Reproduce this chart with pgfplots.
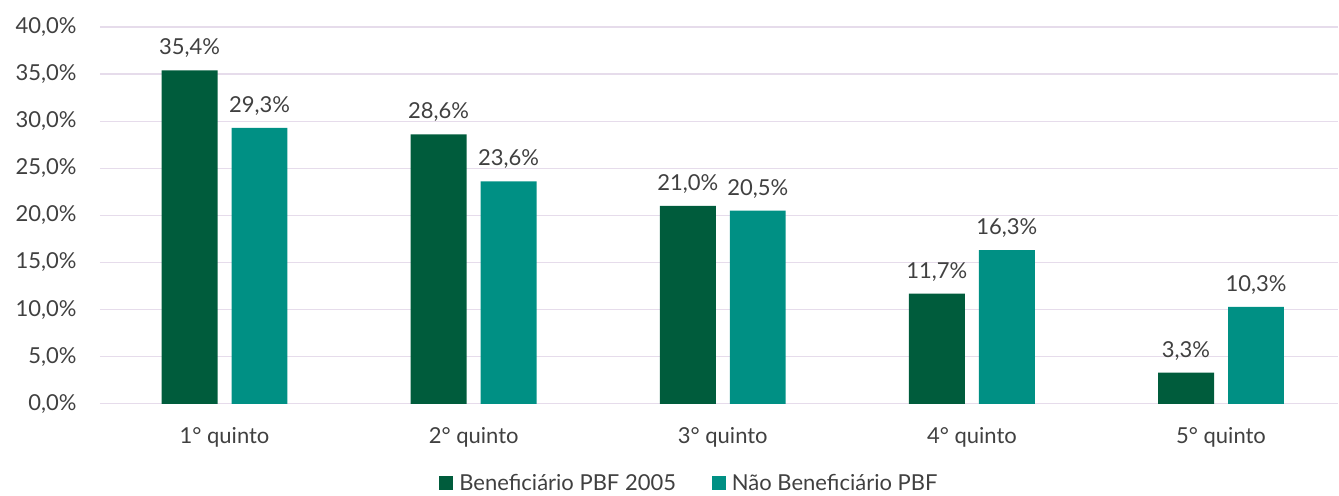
\documentclass[border=0pt]{standalone}
\usepackage{fontspec}
\setmainfont{Lato}
\usepackage{pgfplots}
\pgfplotsset{compat=1.18}

\definecolor{verdeesc}{HTML}{005C3C}
\definecolor{verdeagua}{HTML}{009084}
\definecolor{grade}{HTML}{E6DCEB}
\definecolor{texto}{HTML}{404040}

\begin{document}
\begin{tikzpicture}
\path (-100pt,-89pt) rectangle (1239pt,404pt);
\begin{axis}[
    at={(0pt,0pt)}, anchor=south west,
    scale only axis,
    width=1239pt, height=377pt,
    ybar=14pt,
    bar width=56pt,
    xmin=-0.5, xmax=4.471,
    ymin=0, ymax=40,
    xtick={0,1,2,3,4},
    xticklabels={1° quinto, 2° quinto, 3° quinto, 4° quinto, 5° quinto},
    ytick={0,5,...,40},
    yticklabel={\pgfmathprintnumber[fixed,fixed zerofill,precision=1,use comma]{\tick}\%},
    /pgf/number format/assume math mode=true,
    major tick length=0pt,
    axis line style={draw=none},
    ymajorgrids,
    grid style={grade, line width=1.3pt},
    tick label style={font=\fontsize{22}{26}\selectfont, text=texto},
    yticklabel style={xshift=-20pt},
    xticklabel style={yshift=-20pt},
    nodes near coords={\pgfmathprintnumber[fixed,fixed zerofill,precision=1,use comma]{\pgfplotspointmeta}\%},
    nodes near coords style={font=\fontsize{22}{26}\selectfont, text=texto, yshift=9pt},
    legend columns=2,
    legend style={draw=none, fill=none, at={(0.476,-0.2095)}, anchor=center,
        font=\fontsize{22}{26}\selectfont, text=texto,
        /tikz/every even column/.append style={column sep=34pt}},
    legend image code/.code={\fill[#1] (0pt,-7pt) rectangle (14pt,7pt); \path (18pt,0pt);},
]
\addplot[fill=verdeesc, draw=none] coordinates {
    (0,35.4) (1,28.6) (2,21.0) (3,11.7) (4,3.3)
};
\addplot[fill=verdeagua, draw=none] coordinates {
    (0,29.3) (1,23.6) (2,20.5) (3,16.3) (4,10.3)
};
\legend{Beneficiário PBF 2005, Não Beneficiário PBF}
\end{axis}
\end{tikzpicture}
\end{document}
